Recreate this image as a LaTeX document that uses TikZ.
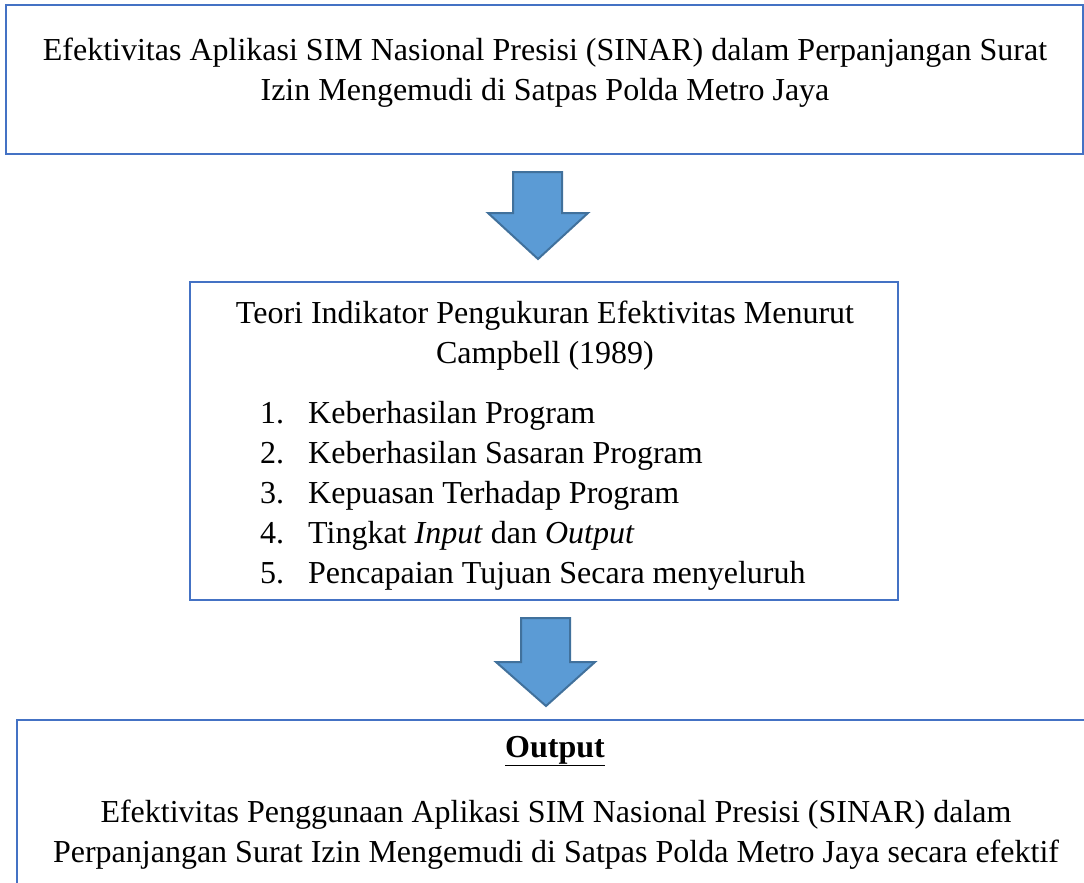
\documentclass[tikz,border=0pt]{standalone}
\usepackage{fontspec}
\setmainfont{Liberation Serif}

\definecolor{boxblue}{HTML}{4472C4}
\definecolor{arrowfill}{HTML}{5B9BD5}
\definecolor{arrowline}{HTML}{41719C}

\tikzset{
  framebox/.style={draw=boxblue,line width=2.2pt,fill=white,inner sep=0pt},
  blockarrow/.style={fill=arrowfill,draw=arrowline,line width=2pt,line join=miter},
  txt/.style={anchor=base,align=center,inner sep=0pt,font=\fontsize{32}{40}\selectfont}
}

\begin{document}
\begin{tikzpicture}[x=1pt,y=-1pt]
        \useasboundingbox(0,0)rectangle(1084,883);
        \clip(0,0)rectangle(1084,883);

        % boxes
        \node[framebox,minimum width=1077pt,minimum height=149pt](topbox)at(544.5,79.5){};
        \node[framebox,minimum width=708pt,minimum height=318pt](theory)at(544,441){};
        \node[framebox,minimum width=1083pt,minimum height=180pt](outbox)at(558.5,810){};

        % block arrows
        \coordinate(arrA)at(538,172);
        \coordinate(arrB)at(546,618);
        \draw[blockarrow,shift={(arrA)}](-25,0)--(24,0)--(24,41)--(50,41)--(0,87)--(-50,41)--(-25,41)--cycle;
        \draw[blockarrow,shift={(arrB)}](-25,0)--(24,0)--(24,44)--(49,44)--(0,88)--(-50,44)--(-25,44)--cycle;

        % texts (base = last line)
        \node[txt](title)at(545,100){Efektivitas Aplikasi SIM Nasional Presisi (SINAR) dalam Perpanjangan Surat\\Izin Mengemudi di Satpas Polda Metro Jaya};
        \node[txt](theoryhead)at(545,363){Teori Indikator Pengukuran Efektivitas Menurut\\Campbell (1989)};
        \foreach \n/\item in {1/Keberhasilan Program,2/Keberhasilan Sasaran Program,3/Kepuasan Terhadap Program,4/{Tingkat \textit{Input} dan \textit{Output}},5/Pencapaian Tujuan Secara menyeluruh}{
            \node[txt,anchor=base west](num\n)at(260,{423+40*(\n-1)}){\n.};
            \node[txt,anchor=base west](item\n)at(308,{423+40*(\n-1)}){\item};
        }
        \node[txt,font=\fontsize{32}{40}\selectfont\bfseries](outhead)at(555,757){\underline{Output}};
        \node[txt](outtext)at(556,862){Efektivitas Penggunaan Aplikasi SIM Nasional Presisi (SINAR) dalam\\Perpanjangan Surat Izin Mengemudi di Satpas Polda Metro Jaya secara efektif};
    \end{tikzpicture}
\end{document}
